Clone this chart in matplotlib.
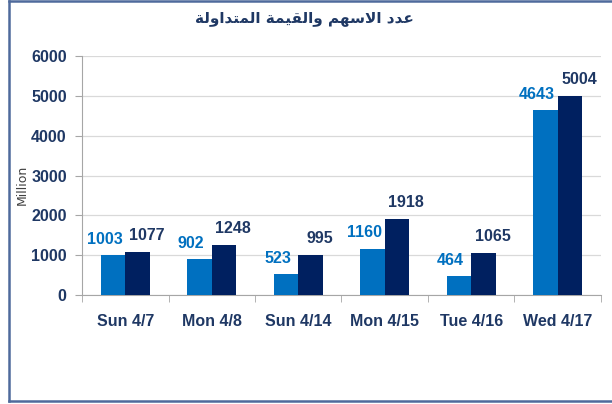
"""Bar chart: traded shares and value by day (grouped bars)."""
import numpy as np
import matplotlib
matplotlib.use('Agg')
import matplotlib.pyplot as plt
from matplotlib.lines import Line2D

# --- data ---
days = ['Sun 4/7', 'Mon 4/8', 'Sun 4/14', 'Mon 4/15', 'Tue 4/16', 'Wed 4/17']
shares = [1003, 902, 523, 1160, 464, 4643]
value = [1077, 1248, 995, 1918, 1065, 5004]
title_ar = 'عدد الاسهم والقيمة المتداولة'
y_label = 'Million'
y_ticks = [0, 1000, 2000, 3000, 4000, 5000, 6000]

LIGHT = '#0070C0'
DARK = '#002060'
NAVY = '#1F3864'
FONT = ['Liberation Sans', 'DejaVu Sans']
FS = 11.5

# minimal arabic shaping (matplotlib has no text shaping)
DUAL = {'ب': 0xFE8F, 'ت': 0xFE95, 'ث': 0xFE99, 'ج': 0xFE9D, 'ح': 0xFEA1, 'خ': 0xFEA5,
        'س': 0xFEB1, 'ش': 0xFEB5, 'ص': 0xFEB9, 'ض': 0xFEBD, 'ط': 0xFEC1, 'ظ': 0xFEC5,
        'ع': 0xFEC9, 'غ': 0xFECD, 'ف': 0xFED1, 'ق': 0xFED5, 'ك': 0xFED9, 'ل': 0xFEDD,
        'م': 0xFEE1, 'ن': 0xFEE5, 'ه': 0xFEE9, 'ي': 0xFEF1}
RIGHT = {'ا': 0xFE8D, 'ة': 0xFE93, 'د': 0xFEA9, 'ذ': 0xFEAB, 'ر': 0xFEAD, 'ز': 0xFEAF,
         'و': 0xFEED, 'ى': 0xFEEF}


def shape(text):
    out = []
    chars = list(text)
    i = 0
    while i < len(chars):
        c = chars[i]
        prev = chars[i - 1] if i > 0 else ''
        joins_prev = prev in DUAL
        if c == 'ل' and i + 1 < len(chars) and chars[i + 1] == 'ا':
            out.append(chr(0xFEFC if joins_prev else 0xFEFB))
            i += 2
            continue
        nxt = chars[i + 1] if i + 1 < len(chars) else ''
        joins_next = nxt in DUAL or nxt in RIGHT
        if c in DUAL:
            base = DUAL[c]
            if joins_prev and joins_next:
                out.append(chr(base + 3))
            elif joins_next:
                out.append(chr(base + 2))
            elif joins_prev:
                out.append(chr(base + 1))
            else:
                out.append(chr(base))
        elif c in RIGHT:
            out.append(chr(RIGHT[c] + 1 if joins_prev else RIGHT[c]))
        else:
            out.append(c)
        i += 1
    return ''.join(reversed(out))


fig = plt.figure(figsize=(6.12, 4.04), dpi=100)
ax = fig.add_axes([0.134, 0.27, 0.848, 0.591])

x = np.arange(len(days))
w = 0.283
b1 = ax.bar(x - w / 2, shares, w, color=LIGHT, zorder=3)
b2 = ax.bar(x + w / 2, value, w, color=DARK, zorder=3)

# data labels: light ones nudged left, dark ones nudged right (as in the original)
for rect, v in zip(b1, shares):
    ax.annotate(str(v), (rect.get_x() + rect.get_width() / 2, v), xytext=(-6, 6),
                textcoords='offset points', ha='center', va='bottom',
                fontsize=FS, fontweight='bold', color=LIGHT, family=FONT)
for rect, v in zip(b2, value):
    ax.annotate(str(v), (rect.get_x() + rect.get_width() / 2, v), xytext=(6.5, 6.5),
                textcoords='offset points', ha='center', va='bottom',
                fontsize=FS, fontweight='bold', color=NAVY, family=FONT)

ax.set_xlim(-0.5, len(days) - 0.5)
ax.set_ylim(0, 6000)
ax.set_yticks(y_ticks)
ax.set_yticklabels([str(t) for t in y_ticks], fontsize=FS, fontweight='bold',
                   color=NAVY, family=FONT)
ax.set_xticks(x)
ax.set_xticklabels(days, fontsize=FS, fontweight='bold', color=NAVY, family=FONT)
ax.set_xticks(np.arange(len(days) + 1) - 0.5, minor=True)
ax.tick_params(axis='x', which='major', length=0, pad=14)
ax.tick_params(axis='x', which='minor', length=5, color='#a6a6a6')
ax.tick_params(axis='y', length=5, color='#a6a6a6', pad=6)
ax.grid(axis='y', color='#d9d9d9', linewidth=0.9, zorder=0)
for s in ['top', 'right']:
    ax.spines[s].set_visible(False)
for s in ['left', 'bottom']:
    ax.spines[s].set_color('#a6a6a6')
ax.set_ylabel(y_label, fontsize=9, color='#404040')
ax.yaxis.set_label_coords(-0.102, 0.46)

fig.text(0.498, 0.955, shape(title_ar), ha='center', va='center', fontsize=11,
         fontweight='bold', color=NAVY, family=['DejaVu Sans'])

# outer frame (left, top, bottom)
frame = '#4F6A9C'
fig.add_artist(Line2D([0.015, 0.015], [0.008, 0.997], color=frame, lw=1.8))
fig.add_artist(Line2D([0.015, 1.0], [0.997, 0.997], color=frame, lw=1.8))
fig.add_artist(Line2D([0.015, 1.0], [0.008, 0.008], color=frame, lw=1.8))

fig.savefig('out.png', dpi=100)
